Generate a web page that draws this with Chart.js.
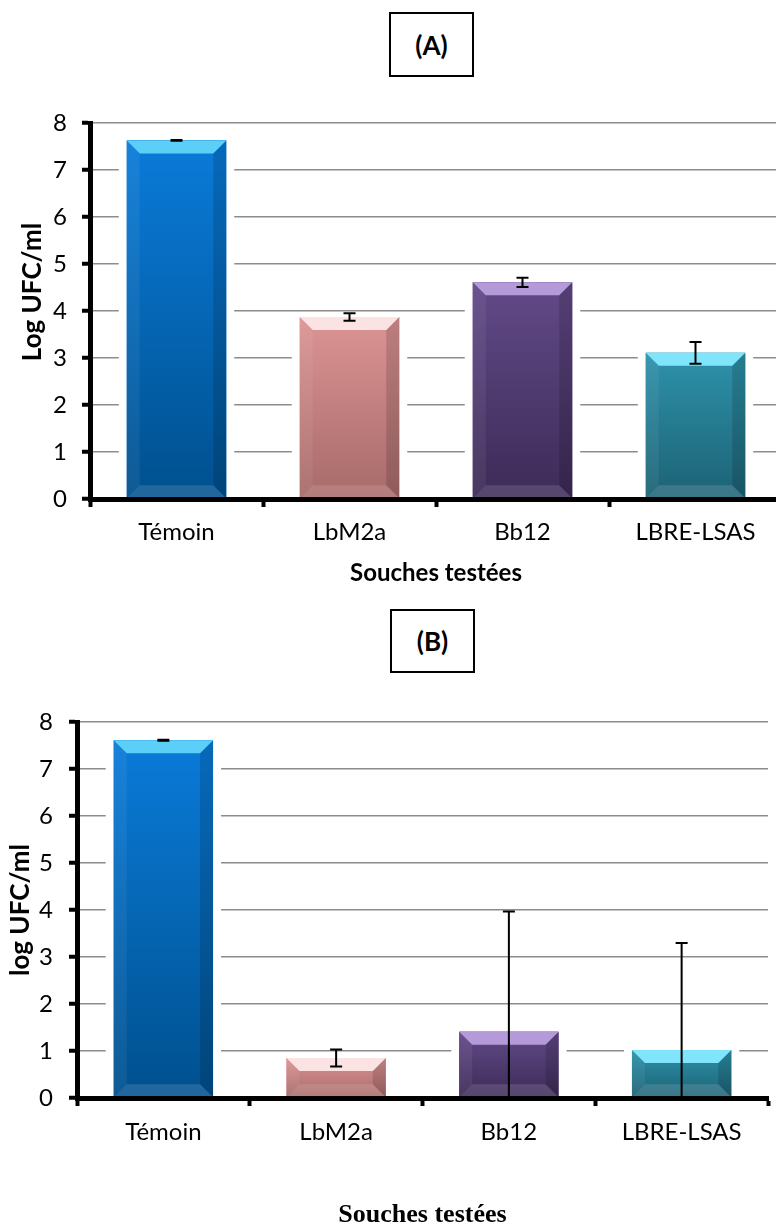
<!DOCTYPE html>
<html>
<head>
<meta charset="utf-8">
<script src="https://cdn.jsdelivr.net/npm/chart.js@4.4.1/dist/chart.umd.min.js"></script>
<style>
  html, body { margin: 0; padding: 0; background: #fff; overflow: hidden; }
  body { width: 776px; height: 1228px; position: relative; }
  #wrapA { position: absolute; left: 0; top: 0; width: 776px; height: 600px; overflow: hidden; }
  #chartA { position: absolute; left: 0; top: 0; }
  #chartB { position: absolute; left: 0; top: 600px; }
  .panel {
    position: absolute; box-sizing: border-box; border: 2px solid #000; background: #fff;
    font: bold 26px Lato, sans-serif; color: #000;
    display: flex; align-items: center; justify-content: center;
  }
</style>
</head>
<body>
<div id="wrapA"><canvas id="chartA" width="800" height="600"></canvas></div>
<canvas id="chartB" width="776" height="628"></canvas>
<div class="panel" style="left:389px;top:12px;width:85px;height:65px;">(A)</div>
<div class="panel" style="left:390px;top:609px;width:85px;height:64px;">(B)</div>
<script>
// data
const categories = ["Témoin", "LbM2a", "Bb12", "LBRE-LSAS"];
const valuesA = [7.63, 3.87, 4.61, 3.11];
const errorsA = [0.01, 0.08, 0.10, 0.23];
const valuesB = [7.61, 0.85, 1.41, 1.02];
const errorsB = [0.01, 0.18, 2.56, 2.28];
const yMin = 0;
const yMax = 8;

// bar looks (bevelled Excel style)
const barLooks = [
  { top: "#5ccff8", face: ["#0a7bd9", "#00508e"] },
  { top: "#fbe3e3", face: ["#dc9494", "#a86a6a"] },
  { top: "#b49ad8", face: ["#624a88", "#3d2b57"] },
  { top: "#80e4fa", face: ["#2d92aa", "#1d6275"] }
];

function poly(ctx, pts, fill) {
  ctx.beginPath();
  ctx.moveTo(pts[0][0], pts[0][1]);
  for (let i = 1; i < pts.length; i++) ctx.lineTo(pts[i][0], pts[i][1]);
  ctx.closePath();
  ctx.fillStyle = fill;
  ctx.fill();
}

const bevelPlugin = {
  id: "bevel",
  beforeDatasetsDraw(chart) {
    // white halo round the bars, hides the grid next to them
    const ctx = chart.ctx;
    ctx.save();
    ctx.fillStyle = "#fff";
    chart.getDatasetMeta(0).data.forEach(bar => {
      const p = bar.getProps(["x", "y", "base", "width"], true);
      ctx.fillRect(p.x - p.width / 2 - 8, p.y - 4, p.width + 16, p.base - p.y + 4);
    });
    ctx.restore();
  },
  afterDatasetsDraw(chart, args, opts) {
    const ctx = chart.ctx;
    const yScale = chart.scales.y;
    const area = chart.chartArea;
    ctx.save();
    chart.getDatasetMeta(0).data.forEach((bar, i) => {
      const p = bar.getProps(["x", "y", "base", "width"], true);
      const look = barLooks[i];
      const L = p.x - p.width / 2, R = p.x + p.width / 2;
      const T = Math.min(p.y, p.base), B = Math.max(p.y, p.base);
      const b = Math.min(13, (B - T) / 3);
      const g = ctx.createLinearGradient(0, T, 0, B);
      g.addColorStop(0, look.face[0]);
      g.addColorStop(1, look.face[1]);
      ctx.fillStyle = g;
      ctx.fillRect(L, T, R - L, B - T);
      poly(ctx, [[L, T], [L + b, T + b], [L + b, B - b], [L, B]], "rgba(255,255,255,0.06)");
      poly(ctx, [[R, T], [R - b, T + b], [R - b, B - b], [R, B]], "rgba(0,0,0,0.14)");
      poly(ctx, [[L, B], [L + b, B - b], [R - b, B - b], [R, B]], "rgba(255,255,255,0.13)");
      poly(ctx, [[L, T], [R, T], [R - b, T + b], [L + b, T + b]], look.top);
    });

    // error bars
    ctx.beginPath();
    ctx.rect(area.left, area.top - 10, area.right - area.left, area.bottom - area.top + 10);
    ctx.clip();
    ctx.strokeStyle = "#000";
    ctx.lineWidth = 2;
    const vals = chart.data.datasets[0].data;
    chart.getDatasetMeta(0).data.forEach((bar, i) => {
      const e = opts.errors[i];
      const x = bar.x;
      const yTop = yScale.getPixelForValue(vals[i] + e);
      const yBot = yScale.getPixelForValue(vals[i] - e);
      ctx.beginPath();
      ctx.moveTo(x, yTop); ctx.lineTo(x, yBot);
      ctx.moveTo(x - 6, yTop); ctx.lineTo(x + 6, yTop);
      ctx.moveTo(x - 6, yBot); ctx.lineTo(x + 6, yBot);
      ctx.stroke();
    });
    ctx.restore();
  }
};

// y axis title, placed like the Excel text (not always centred on the axis)
const yTitlePlugin = {
  id: "yTitle",
  afterDraw(chart, args, opts) {
    const ctx = chart.ctx, area = chart.chartArea;
    ctx.save();
    ctx.translate(opts.x, (area.top + area.bottom) / 2 - opts.shift);
    ctx.rotate(-Math.PI / 2);
    ctx.font = "bold 26px Lato";
    ctx.textAlign = "center";
    ctx.textBaseline = "middle";
    ctx.fillStyle = "#000";
    ctx.fillText(opts.text, 0, 0);
    ctx.restore();
  }
};

function makeChart(id, values, errors, o) {
  return new Chart(document.getElementById(id), {
    type: "bar",
    data: {
      labels: categories,
      datasets: [{
        data: values,
        backgroundColor: barLooks.map(l => l.face[0]),
        borderWidth: 0,
        barPercentage: 0.575,
        categoryPercentage: 1
      }]
    },
    plugins: [bevelPlugin, yTitlePlugin],
    options: {
      responsive: false,
      animation: false,
      layout: { padding: o.padding },
      plugins: {
        legend: { display: false },
        tooltip: { enabled: false },
        bevel: { errors: errors },
        yTitle: { text: o.yTitle, x: o.yTitleX, shift: o.yTitleShift }
      },
      scales: {
        x: {
          grid: { display: true, drawOnChartArea: false, drawTicks: true, offset: true,
                  tickLength: 8, tickWidth: 4, tickColor: "#000" },
          border: { display: true, color: "#000", width: 5, z: 1 },
          ticks: { color: "#000", padding: o.xTickPad, font: { family: "Lato", size: 24 } },
          title: { display: true, text: "Souches testées", color: "#000",
                   font: o.xTitleFont, padding: { top: 0, bottom: o.xTitlePad } },
          afterFit(scale) { scale.height = o.xHeight; }
        },
        y: {
          min: yMin,
          max: yMax,
          grid: { color: "#8c8c8c", lineWidth: 1.5, drawTicks: true,
                  tickLength: 8, tickWidth: 4, tickColor: "#000" },
          border: { display: true, color: "#000", width: 5, z: 1 },
          ticks: { stepSize: 1, color: "#000", padding: o.yTickPad, font: { family: "Lato", size: 24 } },
          afterFit(scale) { scale.width = o.yWidth; }
        }
      }
    }
  });
}

makeChart("chartA", valuesA, errorsA, {
  padding: { top: 123, right: 18, bottom: 0, left: 0 },
  xHeight: 101, xTickPad: 11, xTitlePad: 12,
  xTitleFont: { family: "Lato", size: 24, weight: "bold" },
  yWidth: 90, yTickPad: 15, yTitle: "Log UFC/ml", yTitleX: 33, yTitleShift: 19
});

makeChart("chartB", valuesB, errorsB, {
  padding: { top: 122, right: 8, bottom: 0, left: 0 },
  xHeight: 130, xTickPad: 12, xTitlePad: -3,
  xTitleFont: { family: "Liberation Serif", size: 26, weight: "bold" },
  yWidth: 77, yTickPad: 16, yTitle: "log UFC/ml", yTitleX: 21, yTitleShift: 0
});
</script>
</body>
</html>
